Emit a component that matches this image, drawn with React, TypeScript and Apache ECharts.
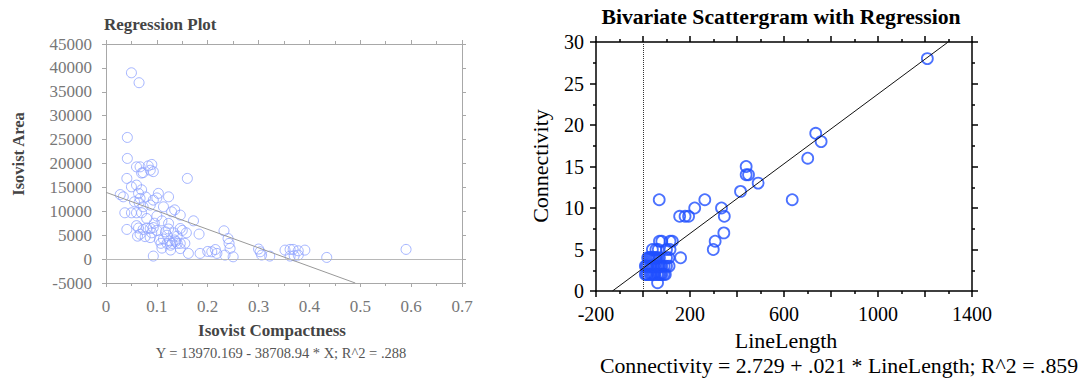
import React, { useEffect, useRef } from "react";
import * as echarts from "echarts";

// ---- Left chart: Isovist Compactness vs Isovist Area ----
const compactness = [
  0.050, 0.065, 0.042, 0.042, 0.060, 0.067, 0.083, 0.087, 0.073, 0.093,
  0.160, 0.041, 0.050, 0.060, 0.064, 0.067, 0.034, 0.103, 0.123, 0.093,
  0.113, 0.087, 0.073, 0.065, 0.037, 0.050, 0.060, 0.070, 0.129, 0.146,
  0.172, 0.123, 0.041, 0.064, 0.067, 0.077, 0.087, 0.073, 0.087, 0.093,
  0.100, 0.090, 0.117, 0.123, 0.133, 0.150, 0.140, 0.146, 0.183, 0.232,
  0.120, 0.130, 0.140, 0.146, 0.127, 0.137, 0.110, 0.127, 0.162, 0.146,
  0.185, 0.208, 0.218, 0.234, 0.250, 0.244, 0.242, 0.303, 0.306, 0.322,
  0.352, 0.362, 0.368, 0.378, 0.391, 0.362, 0.378, 0.434, 0.590, 0.093,
  0.080, 0.100, 0.110, 0.056, 0.070, 0.078, 0.095, 0.105, 0.113, 0.120,
  0.135, 0.155, 0.125, 0.090, 0.070, 0.215, 0.200, 0.240, 0.158, 0.108,
  0.100, 0.135, 0.080, 0.060, 0.062, 0.300, 0.370, 0.028,
];
const isovistArea = [
  38980, 36900, 25450, 21060, 19300, 19300, 19500, 18600, 18100, 18300,
  16880, 16880, 15130, 15480, 13750, 12700, 13030, 13750, 13030, 12340,
  10940, 11300, 10940, 11800, 9690, 9690, 9690, 9690, 9900, 9200,
  8010, 7470, 6210, 6500, 5200, 4700, 4500, 6200, 6400, 6600,
  6000, 5500, 5700, 6300, 5500, 6000, 4800, 6400, 5230, 5920,
  3280, 3280, 3280, 3280, 2900, 3700, 2300, 1900, 1190, 2200,
  1190, 1530, 1190, 840, 480, 2240, 3280, 1530, 840, 630,
  1880, 2030, 2030, 1740, 1880, 630, 840, 350, 2030, 630,
  8500, 9000, 8000, 12000, 14500, 13000, 7500, 4000, 4200, 5000,
  4000, 3300, 3800, 19800, 18000, 2000, 1600, 4300, 5500, 3300,
  12800, 10300, 6500, 7000, 4800, 2100, 700, 13500,
];
const leftIntercept = 13970.169;
const leftSlope = -38708.94;
const leftXTicks = [0, 0.7, 0.1];
const leftYTicks = [-5000, 45000, 5000];

// ---- Right chart: LineLength vs Connectivity ----
const lineLength = [
  1210, 735, 758, 701, 439, 439, 449, 490, 415, 635,
  69, 263, 220, 334, 156, 179, 194, 346, 344, 307,
  299, 160, 70, 80, 115, 125, 100, 115, 111, 89,
  62, 10, 20, 30, 40, 50, 60, 70, 80, 10,
  20, 30, 40, 50, 60, 70, 80, 90, 20, 30,
  40, 50, 60, 70, 40, 55, 65, 100, 110, 95,
  100, 25, 45, 15, 35, 45, 65, 75, 15, 35,
  45, 65, 75, 35, 55,
];
const connectivity = [
  28, 19, 18, 16, 15, 14, 14, 13, 12, 11,
  11, 11, 10, 10, 9, 9, 9, 9, 7, 6,
  5, 4, 6, 6, 6, 6, 5, 5, 3, 2,
  1, 2, 2, 2, 2, 2, 2, 2, 2, 3,
  3, 3, 3, 3, 3, 3, 3, 3, 4, 4,
  4, 4, 4, 4, 5, 5, 5, 4, 4, 2,
  3, 4, 4, 2, 2, 2, 2, 2, 3, 3,
  3, 3, 3, 4, 4,
];
const rightIntercept = 2.729;
const rightSlope = 0.021;
const rightXTicks = [-200, 1400, 200];
const rightYTicks = [0, 30, 5];

const SERIF = "'Liberation Serif', 'Times New Roman', serif";

function txt(x: number, y: number, text: string, font: string, fill: string, align = "center", rotation = 0) {
  return {
    type: "text", x, y, rotation,
    style: { text, font, fill, textAlign: align, textVerticalAlign: "middle", align, verticalAlign: "middle" },
  };
}

export default function App() {
  const ref = useRef<HTMLDivElement>(null);

  useEffect(() => {
    document.body.style.margin = "0";
    if (!ref.current) return;
    const chart = echarts.init(ref.current, undefined, { renderer: "svg" });

    const leftPts = compactness.map((x, i) => [x, isovistArea[i]]);
    const rightPts = lineLength.map((x, i) => [x, connectivity[i]]);
    const leftEndX = (leftYTicks[0] - leftIntercept) / leftSlope;
    const leftLine = [
      [0, leftIntercept],
      [leftEndX, leftIntercept + leftSlope * leftEndX],
    ];
    const rStartX = (rightYTicks[0] - rightIntercept) / rightSlope;
    const rEndX = (rightYTicks[1] - rightIntercept) / rightSlope;
    const rightLine = [
      [rStartX, rightIntercept + rightSlope * rStartX],
      [rEndX, rightIntercept + rightSlope * rEndX],
    ];

    const grayLine = { show: true, onZero: false, lineStyle: { color: "#a8a8a8", width: 1 } };
    const grayTick = { show: true, inside: false, length: 4, lineStyle: { color: "#a8a8a8" } };
    const grayMinor = { show: true, splitNumber: 2, length: 3, lineStyle: { color: "#a8a8a8" } };
    const blackLine = { show: true, onZero: false, lineStyle: { color: "#000", width: 1.5 } };
    const blackTick = { show: true, inside: false, length: 6, lineStyle: { color: "#000", width: 1.5 } };
    const blackMinor = { show: true, splitNumber: 2, length: 3, lineStyle: { color: "#000", width: 1.5 } };

    const leftXLabel = {
      show: true, color: "#777", fontFamily: SERIF, fontSize: 17, margin: 15,
      formatter: (v: number) => String(+v.toFixed(1)),
    };
    const rightXLabel = {
      show: true, color: "#000", fontFamily: SERIF, fontSize: 20, margin: 13,
      formatter: (v: number) => (Math.round(v - rightXTicks[0]) % 400 === 0 ? String(v) : ""),
    };

    chart.setOption({
      animation: false,
      grid: [
        { left: 106, top: 44, width: 356, height: 239 },
        { left: 596, top: 42, width: 376, height: 249 },
      ],
      xAxis: [
        {
          gridIndex: 0, type: "value", position: "bottom",
          min: leftXTicks[0], max: leftXTicks[1], interval: leftXTicks[2],
          axisLine: grayLine, axisTick: grayTick, minorTick: grayMinor,
          axisLabel: leftXLabel, splitLine: { show: false },
        },
        {
          gridIndex: 0, type: "value", position: "top",
          min: leftXTicks[0], max: leftXTicks[1], interval: leftXTicks[2],
          axisLine: grayLine, axisTick: grayTick, minorTick: grayMinor,
          axisLabel: { show: false }, splitLine: { show: false },
        },
        {
          gridIndex: 1, type: "value", position: "bottom",
          min: rightXTicks[0], max: rightXTicks[1], interval: rightXTicks[2],
          axisLine: blackLine, axisTick: blackTick, minorTick: blackMinor,
          axisLabel: rightXLabel, splitLine: { show: false },
        },
        {
          gridIndex: 1, type: "value", position: "top",
          min: rightXTicks[0], max: rightXTicks[1], interval: rightXTicks[2],
          axisLine: blackLine, axisTick: blackTick, minorTick: blackMinor,
          axisLabel: { show: false }, splitLine: { show: false },
        },
      ],
      yAxis: [
        {
          gridIndex: 0, type: "value", position: "left",
          min: leftYTicks[0], max: leftYTicks[1], interval: leftYTicks[2],
          axisLine: grayLine, axisTick: grayTick,
          axisLabel: { color: "#777", fontFamily: SERIF, fontSize: 17, margin: 14, formatter: (v: number) => String(v) },
          splitLine: { show: false },
        },
        {
          gridIndex: 0, type: "value", position: "right",
          min: leftYTicks[0], max: leftYTicks[1], interval: leftYTicks[2],
          axisLine: grayLine, axisTick: grayTick,
          axisLabel: { show: false }, splitLine: { show: false },
        },
        {
          gridIndex: 1, type: "value", position: "left",
          min: rightYTicks[0], max: rightYTicks[1], interval: rightYTicks[2],
          axisLine: blackLine, axisTick: blackTick, minorTick: blackMinor,
          axisLabel: { color: "#000", fontFamily: SERIF, fontSize: 20, margin: 12 },
          splitLine: { show: false },
        },
        {
          gridIndex: 1, type: "value", position: "right",
          min: rightYTicks[0], max: rightYTicks[1], interval: rightYTicks[2],
          axisLine: blackLine, axisTick: blackTick, minorTick: blackMinor,
          axisLabel: { show: false }, splitLine: { show: false },
        },
      ],
      series: [
        {
          type: "scatter", xAxisIndex: 0, yAxisIndex: 0, data: leftPts,
          symbol: "circle", symbolSize: 10,
          itemStyle: { color: "rgba(0,0,0,0)", borderColor: "#8ea3ff", borderWidth: 1 },
          markLine: {
            silent: true, symbol: "none", label: { show: false },
            lineStyle: { color: "#b8b8b8", type: "solid", width: 1 },
            data: [{ yAxis: 0 }],
          },
        },
        {
          type: "line", xAxisIndex: 0, yAxisIndex: 0, data: leftLine,
          symbol: "none", lineStyle: { color: "#999", width: 1 },
        },
        {
          type: "scatter", xAxisIndex: 2, yAxisIndex: 2, data: rightPts,
          symbol: "circle", symbolSize: 11,
          itemStyle: { color: "rgba(0,0,0,0)", borderColor: "#1f4fff", borderWidth: 1.8 },
          markLine: {
            silent: true, symbol: "none", label: { show: false },
            lineStyle: { color: "#333", type: "dotted", width: 1 },
            data: [{ xAxis: 0 }],
          },
        },
        {
          type: "line", xAxisIndex: 2, yAxisIndex: 2, data: rightLine,
          symbol: "none", lineStyle: { color: "#111", width: 1 },
        },
      ],
      graphic: [
        txt(104, 24, "Regression Plot", `bold 17px ${SERIF}`, "#444", "left"),
        txt(18, 154, "Isovist Area", `bold 16.5px ${SERIF}`, "#444", "center", Math.PI / 2),
        txt(272, 330, "Isovist Compactness", `bold 17px ${SERIF}`, "#444"),
        txt(281, 353, "Y = 13970.169 - 38708.94 * X; R^2 = .288", `14.5px ${SERIF}`, "#555"),
        txt(781, 17, "Bivariate Scattergram with Regression", `bold 21.7px ${SERIF}`, "#000"),
        txt(540, 166, "Connectivity", `22px ${SERIF}`, "#000", "center", Math.PI / 2),
        txt(786, 340, "LineLength", `22px ${SERIF}`, "#000"),
        txt(839, 366, "Connectivity = 2.729 + .021 * LineLength; R^2 = .859", `21.8px ${SERIF}`, "#000"),
      ],
    });

    return () => chart.dispose();
  }, []);

  return <div ref={ref} style={{ width: 1085, height: 380 }} />;
}
